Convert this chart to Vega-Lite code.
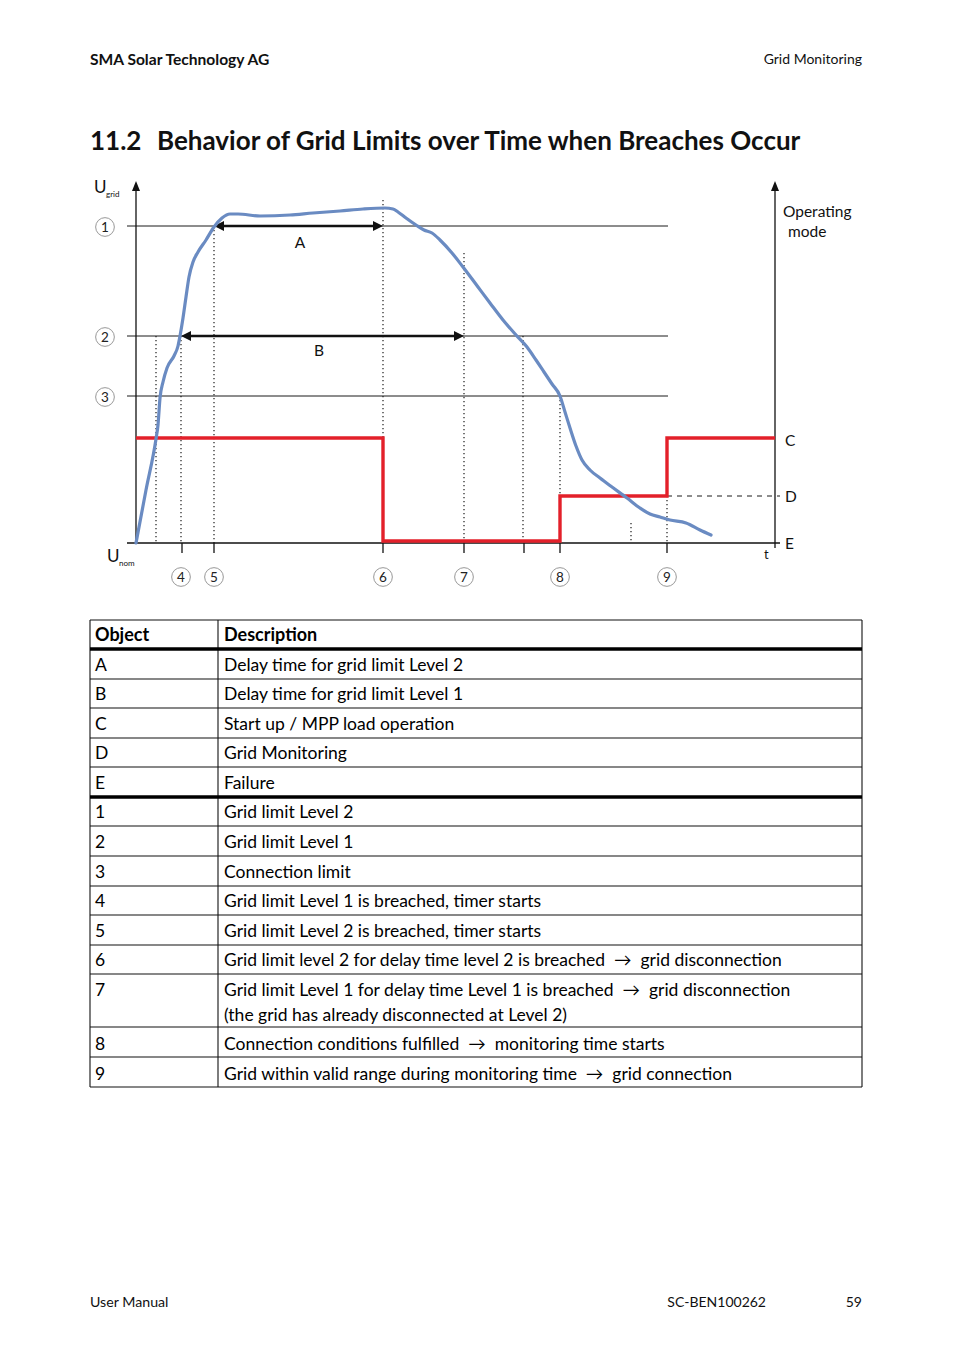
{
  "$schema": "https://vega.github.io/schema/vega-lite/v6.json",
  "width": 954,
  "height": 1352,
  "autosize": {"type": "fit", "contains": "padding"},
  "padding": 0,
  "background": "white",
  "config": {"view": {"stroke": null}},
  "datasets": {
    "rules": [
      {"g": "axis", "x": 136, "y": 543, "x2": 136, "y2": 190},
      {"g": "axis", "x": 775, "y": 548, "x2": 775, "y2": 190},
      {"g": "axis", "x": 127, "y": 543, "x2": 780, "y2": 543},
      {"g": "thin", "x": 127, "y": 226, "x2": 668, "y2": 226},
      {"g": "thin", "x": 127, "y": 336, "x2": 668, "y2": 336},
      {"g": "thin", "x": 127, "y": 396, "x2": 668, "y2": 396},
      {"g": "tick", "x": 182, "y": 543, "x2": 182, "y2": 553},
      {"g": "tick", "x": 214, "y": 543, "x2": 214, "y2": 553},
      {"g": "tick", "x": 383, "y": 543, "x2": 383, "y2": 553},
      {"g": "tick", "x": 464, "y": 543, "x2": 464, "y2": 553},
      {"g": "tick", "x": 524, "y": 543, "x2": 524, "y2": 553},
      {"g": "tick", "x": 560, "y": 543, "x2": 560, "y2": 553},
      {"g": "tick", "x": 667, "y": 543, "x2": 667, "y2": 553},
      {"g": "arrow", "x": 218, "y": 226, "x2": 379, "y2": 226},
      {"g": "arrow", "x": 185, "y": 336, "x2": 460, "y2": 336},
      {"g": "dotted", "x": 156, "y": 336, "x2": 156, "y2": 543},
      {"g": "dotted", "x": 181, "y": 336, "x2": 181, "y2": 543},
      {"g": "dotted", "x": 214, "y": 230, "x2": 214, "y2": 543},
      {"g": "dotted", "x": 383, "y": 200, "x2": 383, "y2": 543},
      {"g": "dotted", "x": 464, "y": 253, "x2": 464, "y2": 543},
      {"g": "dotted", "x": 523, "y": 336, "x2": 523, "y2": 543},
      {"g": "dotted", "x": 560, "y": 396, "x2": 560, "y2": 543},
      {"g": "dotted", "x": 631, "y": 523, "x2": 631, "y2": 543},
      {"g": "dotted", "x": 667, "y": 496, "x2": 667, "y2": 543},
      {"g": "dashdot", "x": 667, "y": 496, "x2": 780, "y2": 496},
      {"g": "table", "x": 90, "y": 620, "x2": 90, "y2": 1087},
      {"g": "table", "x": 218, "y": 620, "x2": 218, "y2": 1087},
      {"g": "table", "x": 862, "y": 620, "x2": 862, "y2": 1087},
      {"g": "table", "x": 90, "y": 620, "x2": 862, "y2": 620},
      {"g": "table", "x": 90, "y": 679, "x2": 862, "y2": 679},
      {"g": "table", "x": 90, "y": 708, "x2": 862, "y2": 708},
      {"g": "table", "x": 90, "y": 738, "x2": 862, "y2": 738},
      {"g": "table", "x": 90, "y": 767, "x2": 862, "y2": 767},
      {"g": "table", "x": 90, "y": 826, "x2": 862, "y2": 826},
      {"g": "table", "x": 90, "y": 856, "x2": 862, "y2": 856},
      {"g": "table", "x": 90, "y": 886, "x2": 862, "y2": 886},
      {"g": "table", "x": 90, "y": 915, "x2": 862, "y2": 915},
      {"g": "table", "x": 90, "y": 945, "x2": 862, "y2": 945},
      {"g": "table", "x": 90, "y": 974, "x2": 862, "y2": 974},
      {"g": "table", "x": 90, "y": 1027, "x2": 862, "y2": 1027},
      {"g": "table", "x": 90, "y": 1057, "x2": 862, "y2": 1057},
      {"g": "table", "x": 90, "y": 1087, "x2": 862, "y2": 1087},
      {"g": "tablethick", "x": 90, "y": 649, "x2": 862, "y2": 649},
      {"g": "tablethick", "x": 90, "y": 797, "x2": 862, "y2": 797}
    ],
    "blue": [
      {"i": 0, "x": 136, "y": 543}, {"i": 1, "x": 146, "y": 490}, {"i": 2, "x": 156, "y": 439},
      {"i": 3, "x": 158, "y": 425}, {"i": 4, "x": 160, "y": 398}, {"i": 5, "x": 163, "y": 382},
      {"i": 6, "x": 167, "y": 368}, {"i": 7, "x": 174, "y": 356}, {"i": 8, "x": 178, "y": 346},
      {"i": 9, "x": 180, "y": 336}, {"i": 10, "x": 183, "y": 318}, {"i": 11, "x": 186, "y": 297},
      {"i": 12, "x": 189, "y": 277}, {"i": 13, "x": 193, "y": 262}, {"i": 14, "x": 198, "y": 252},
      {"i": 15, "x": 206, "y": 240}, {"i": 16, "x": 214, "y": 227}, {"i": 17, "x": 222, "y": 218},
      {"i": 18, "x": 230, "y": 214}, {"i": 19, "x": 238, "y": 214}, {"i": 20, "x": 260, "y": 216},
      {"i": 21, "x": 290, "y": 215}, {"i": 22, "x": 313, "y": 213}, {"i": 23, "x": 340, "y": 211},
      {"i": 24, "x": 363, "y": 209}, {"i": 25, "x": 385, "y": 208}, {"i": 26, "x": 393, "y": 209},
      {"i": 27, "x": 398, "y": 212}, {"i": 28, "x": 406, "y": 218}, {"i": 29, "x": 416, "y": 225},
      {"i": 30, "x": 424, "y": 230}, {"i": 31, "x": 432, "y": 233}, {"i": 32, "x": 440, "y": 240},
      {"i": 33, "x": 452, "y": 253}, {"i": 34, "x": 463, "y": 267}, {"i": 35, "x": 478, "y": 287},
      {"i": 36, "x": 490, "y": 303}, {"i": 37, "x": 503, "y": 320}, {"i": 38, "x": 516, "y": 335},
      {"i": 39, "x": 527, "y": 347}, {"i": 40, "x": 536, "y": 360}, {"i": 41, "x": 544, "y": 372},
      {"i": 42, "x": 552, "y": 384}, {"i": 43, "x": 560, "y": 396}, {"i": 44, "x": 565, "y": 412},
      {"i": 45, "x": 570, "y": 428}, {"i": 46, "x": 576, "y": 446}, {"i": 47, "x": 582, "y": 460},
      {"i": 48, "x": 590, "y": 470}, {"i": 49, "x": 600, "y": 478}, {"i": 50, "x": 612, "y": 487},
      {"i": 51, "x": 627, "y": 498}, {"i": 52, "x": 640, "y": 508}, {"i": 53, "x": 650, "y": 514},
      {"i": 54, "x": 660, "y": 517}, {"i": 55, "x": 670, "y": 520}, {"i": 56, "x": 686, "y": 523},
      {"i": 57, "x": 700, "y": 530}, {"i": 58, "x": 711, "y": 535}
    ],
    "red": [
      {"i": 0, "x": 136, "y": 438}, {"i": 1, "x": 383, "y": 438}, {"i": 2, "x": 383, "y": 541},
      {"i": 3, "x": 560, "y": 541}, {"i": 4, "x": 560, "y": 496}, {"i": 5, "x": 667, "y": 496},
      {"i": 6, "x": 667, "y": 438}, {"i": 7, "x": 775, "y": 438}
    ],
    "heads": [
      {"dir": "left", "x": 214, "y": 226}, {"dir": "right", "x": 383, "y": 226},
      {"dir": "left", "x": 181, "y": 336}, {"dir": "right", "x": 464, "y": 336},
      {"dir": "up", "x": 136, "y": 181}, {"dir": "up", "x": 775, "y": 181}
    ],
    "circles": [
      {"x": 105, "y": 227, "text": "1"}, {"x": 105, "y": 337, "text": "2"}, {"x": 105, "y": 397, "text": "3"},
      {"x": 181, "y": 577, "text": "4"}, {"x": 214, "y": 577, "text": "5"}, {"x": 383, "y": 577, "text": "6"},
      {"x": 464, "y": 577, "text": "7"}, {"x": 560, "y": 577, "text": "8"}, {"x": 667, "y": 577, "text": "9"}
    ],
    "texts": [
      {"g": "hdrB", "x": 90, "y": 58, "text": "SMA Solar Technology AG"},
      {"g": "hdrR", "x": 862, "y": 58, "text": "Grid Monitoring"},
      {"g": "hdr", "x": 90, "y": 1301, "text": "User Manual"},
      {"g": "hdrR", "x": 766, "y": 1301, "text": "SC-BEN100262"},
      {"g": "hdrR", "x": 862, "y": 1301, "text": "59"},
      {"g": "title", "x": 90, "y": 140, "text": "11.2"},
      {"g": "title", "x": 157, "y": 140, "text": "Behavior of Grid Limits over Time when Breaches Occur"},
      {"g": "thB", "x": 95, "y": 634, "text": "Object"},
      {"g": "thB", "x": 224, "y": 634, "text": "Description"},
      {"g": "td", "x": 95, "y": 664, "text": "A"},
      {"g": "td", "x": 224, "y": 664, "text": "Delay time for grid limit Level 2"},
      {"g": "td", "x": 95, "y": 693, "text": "B"},
      {"g": "td", "x": 224, "y": 693, "text": "Delay time for grid limit Level 1"},
      {"g": "td", "x": 95, "y": 723, "text": "C"},
      {"g": "td", "x": 224, "y": 723, "text": "Start up / MPP load operation"},
      {"g": "td", "x": 95, "y": 752, "text": "D"},
      {"g": "td", "x": 224, "y": 752, "text": "Grid Monitoring"},
      {"g": "td", "x": 95, "y": 782, "text": "E"},
      {"g": "td", "x": 224, "y": 782, "text": "Failure"},
      {"g": "td", "x": 95, "y": 811, "text": "1"},
      {"g": "td", "x": 224, "y": 811, "text": "Grid limit Level 2"},
      {"g": "td", "x": 95, "y": 841, "text": "2"},
      {"g": "td", "x": 224, "y": 841, "text": "Grid limit Level 1"},
      {"g": "td", "x": 95, "y": 871, "text": "3"},
      {"g": "td", "x": 224, "y": 871, "text": "Connection limit"},
      {"g": "td", "x": 95, "y": 900, "text": "4"},
      {"g": "td", "x": 224, "y": 900, "text": "Grid limit Level 1 is breached, timer starts"},
      {"g": "td", "x": 95, "y": 930, "text": "5"},
      {"g": "td", "x": 224, "y": 930, "text": "Grid limit Level 2 is breached, timer starts"},
      {"g": "td", "x": 95, "y": 959, "text": "6"},
      {"g": "td", "x": 224, "y": 959, "text": "Grid limit level 2 for delay time level 2 is breached \u00a0→\u00a0 grid disconnection"},
      {"g": "td", "x": 95, "y": 989, "text": "7"},
      {"g": "td", "x": 224, "y": 989, "text": "Grid limit Level 1 for delay time Level 1 is breached \u00a0→\u00a0 grid disconnection"},
      {"g": "td", "x": 224, "y": 1014, "text": "(the grid has already disconnected at Level 2)"},
      {"g": "td", "x": 95, "y": 1043, "text": "8"},
      {"g": "td", "x": 224, "y": 1043, "text": "Connection conditions fulfilled \u00a0→\u00a0 monitoring time starts"},
      {"g": "td", "x": 95, "y": 1073, "text": "9"},
      {"g": "td", "x": 224, "y": 1073, "text": "Grid within valid range during monitoring time \u00a0→\u00a0 grid connection"},
      {"g": "diagC", "x": 300, "y": 242, "text": "A"},
      {"g": "diagC", "x": 319, "y": 350, "text": "B"},
      {"g": "diag", "x": 785, "y": 440, "text": "C"},
      {"g": "diag", "x": 785, "y": 496, "text": "D"},
      {"g": "diag", "x": 785, "y": 543, "text": "E"},
      {"g": "diagS", "x": 764, "y": 554, "text": "t"},
      {"g": "diag", "x": 783, "y": 211, "text": "Operating"},
      {"g": "diag", "x": 788, "y": 231, "text": "mode"},
      {"g": "diagU", "x": 94, "y": 187, "text": "U"},
      {"g": "sub", "x": 106, "y": 194, "text": "grid"},
      {"g": "diagU", "x": 107, "y": 556, "text": "U"},
      {"g": "sub", "x": 119, "y": 563, "text": "nom"}
    ]
  },
  "encoding": {
    "x": {"field": "x", "type": "quantitative", "scale": {"domain": [0, 954], "nice": false, "zero": false}, "axis": null},
    "y": {"field": "y", "type": "quantitative", "scale": {"domain": [0, 1352], "reverse": true, "nice": false, "zero": false}, "axis": null}
  },
  "layer": [
    {
      "data": {"name": "rules"},
      "transform": [{"filter": "datum.g === 'table'"}],
      "mark": {"type": "rule", "color": "#111111", "strokeWidth": 1.1},
      "encoding": {"x2": {"field": "x2"}, "y2": {"field": "y2"}}
    },
    {
      "data": {"name": "rules"},
      "transform": [{"filter": "datum.g === 'tablethick'"}],
      "mark": {"type": "rule", "color": "#000000", "strokeWidth": 3.5},
      "encoding": {"x2": {"field": "x2"}, "y2": {"field": "y2"}}
    },
    {
      "data": {"name": "rules"},
      "transform": [{"filter": "datum.g === 'thin'"}],
      "mark": {"type": "rule", "color": "#1a1a1a", "strokeWidth": 1},
      "encoding": {"x2": {"field": "x2"}, "y2": {"field": "y2"}}
    },
    {
      "data": {"name": "rules"},
      "transform": [{"filter": "datum.g === 'dotted'"}],
      "mark": {"type": "rule", "color": "#1a1a1a", "strokeWidth": 1.2, "strokeDash": [1.2, 2.8]},
      "encoding": {"x2": {"field": "x2"}, "y2": {"field": "y2"}}
    },
    {
      "data": {"name": "rules"},
      "transform": [{"filter": "datum.g === 'dashdot'"}],
      "mark": {"type": "rule", "color": "#1a1a1a", "strokeWidth": 1, "strokeDash": [5, 5]},
      "encoding": {"x2": {"field": "x2"}, "y2": {"field": "y2"}}
    },
    {
      "data": {"name": "rules"},
      "transform": [{"filter": "datum.g === 'axis' || datum.g === 'tick'"}],
      "mark": {"type": "rule", "color": "#111111", "strokeWidth": 1.3},
      "encoding": {"x2": {"field": "x2"}, "y2": {"field": "y2"}}
    },
    {
      "data": {"name": "rules"},
      "transform": [{"filter": "datum.g === 'arrow'"}],
      "mark": {"type": "rule", "color": "#111111", "strokeWidth": 2.4},
      "encoding": {"x2": {"field": "x2"}, "y2": {"field": "y2"}}
    },
    {
      "data": {"name": "heads"},
      "mark": {"type": "point", "filled": true, "color": "#111111", "opacity": 1, "size": 400, "strokeWidth": 0},
      "encoding": {
        "shape": {"field": "dir", "type": "nominal", "legend": null,
          "scale": {"domain": ["left", "right", "up"], "range": ["M1,-0.5L0,0L1,0.5Z", "M-1,-0.5L0,0L-1,0.5Z", "M-0.4,1L0,0L0.4,1Z"]}}
      }
    },
    {
      "data": {"name": "red"},
      "mark": {"type": "line", "color": "#e3202a", "strokeWidth": 3.4, "strokeCap": "butt", "strokeJoin": "miter"},
      "encoding": {"order": {"field": "i", "type": "quantitative"}}
    },
    {
      "data": {"name": "blue"},
      "mark": {"type": "line", "color": "#6a8bc2", "strokeWidth": 3.2, "interpolate": "monotone", "strokeCap": "round"},
      "encoding": {"order": {"field": "i", "type": "quantitative"}}
    },
    {
      "data": {"name": "circles"},
      "mark": {"type": "point", "shape": "circle", "size": 350, "filled": true, "fill": "white", "stroke": "#8c8c8c", "strokeWidth": 0.9, "opacity": 1}
    },
    {
      "data": {"name": "circles"},
      "mark": {"type": "text", "font": "Lato", "fontSize": 13.5, "color": "#222222", "align": "center", "baseline": "middle", "dy": 1},
      "encoding": {"text": {"field": "text"}}
    },
    {
      "data": {"name": "texts"},
      "transform": [{"filter": "datum.g === 'hdrB'"}],
      "mark": {"type": "text", "font": "Lato", "fontSize": 15.6, "fontWeight": "bold", "color": "#111111", "align": "left", "baseline": "middle", "dy": 1.5},
      "encoding": {"text": {"field": "text"}}
    },
    {
      "data": {"name": "texts"},
      "transform": [{"filter": "datum.g === 'hdr'"}],
      "mark": {"type": "text", "font": "Lato", "fontSize": 14.2, "color": "#111111", "align": "left", "baseline": "middle", "dy": 1.5},
      "encoding": {"text": {"field": "text"}}
    },
    {
      "data": {"name": "texts"},
      "transform": [{"filter": "datum.g === 'hdrR'"}],
      "mark": {"type": "text", "font": "Lato", "fontSize": 14, "color": "#111111", "align": "right", "baseline": "middle", "dy": 1.5},
      "encoding": {"text": {"field": "text"}}
    },
    {
      "data": {"name": "texts"},
      "transform": [{"filter": "datum.g === 'title'"}],
      "mark": {"type": "text", "font": "Lato", "fontSize": 26, "fontWeight": "bold", "color": "#111111", "align": "left", "baseline": "middle", "dy": 1.5},
      "encoding": {"text": {"field": "text"}}
    },
    {
      "data": {"name": "texts"},
      "transform": [{"filter": "datum.g === 'thB'"}],
      "mark": {"type": "text", "font": "Lato", "fontSize": 18, "fontWeight": "bold", "color": "#000000", "align": "left", "baseline": "middle", "dy": 1.5},
      "encoding": {"text": {"field": "text"}}
    },
    {
      "data": {"name": "texts"},
      "transform": [{"filter": "datum.g === 'td'"}],
      "mark": {"type": "text", "font": "Lato", "fontSize": 17.5, "color": "#000000", "align": "left", "baseline": "middle", "dy": 1.5},
      "encoding": {"text": {"field": "text"}}
    },
    {
      "data": {"name": "texts"},
      "transform": [{"filter": "datum.g === 'diag'"}],
      "mark": {"type": "text", "font": "Lato", "fontSize": 15.5, "color": "#111111", "align": "left", "baseline": "middle", "dy": 1},
      "encoding": {"text": {"field": "text"}}
    },
    {
      "data": {"name": "texts"},
      "transform": [{"filter": "datum.g === 'diagC'"}],
      "mark": {"type": "text", "font": "Lato", "fontSize": 15.5, "color": "#111111", "align": "center", "baseline": "middle", "dy": 1},
      "encoding": {"text": {"field": "text"}}
    },
    {
      "data": {"name": "texts"},
      "transform": [{"filter": "datum.g === 'diagS'"}],
      "mark": {"type": "text", "font": "Lato", "fontSize": 13, "color": "#111111", "align": "left", "baseline": "middle", "dy": 1},
      "encoding": {"text": {"field": "text"}}
    },
    {
      "data": {"name": "texts"},
      "transform": [{"filter": "datum.g === 'diagU'"}],
      "mark": {"type": "text", "font": "Lato", "fontSize": 17, "color": "#111111", "align": "left", "baseline": "middle", "dy": 1},
      "encoding": {"text": {"field": "text"}}
    },
    {
      "data": {"name": "texts"},
      "transform": [{"filter": "datum.g === 'sub'"}],
      "mark": {"type": "text", "font": "Lato", "fontSize": 8, "color": "#111111", "align": "left", "baseline": "middle", "dy": 1},
      "encoding": {"text": {"field": "text"}}
    }
  ]
}
